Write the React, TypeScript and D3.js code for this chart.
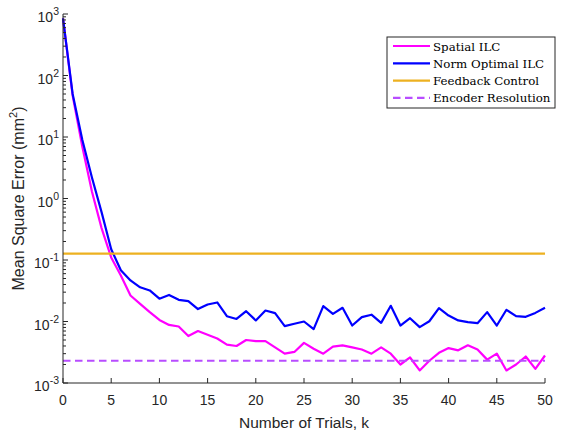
import React from "react";
import * as d3 from "d3";

const trials = d3.range(0, 51);
const spatialILC = [850, 47, 7, 1.3, 0.33, 0.11, 0.056, 0.0265, 0.0194, 0.0142, 0.0106, 0.0088, 0.0083, 0.0058, 0.007, 0.0061, 0.0053, 0.0042, 0.004, 0.005, 0.0048, 0.0048, 0.0038, 0.003, 0.0032, 0.0045, 0.0036, 0.003, 0.0039, 0.0041, 0.0038, 0.0035, 0.003, 0.0038, 0.003, 0.002, 0.0026, 0.0016, 0.0023, 0.0031, 0.0037, 0.0034, 0.0041, 0.0035, 0.0024, 0.003, 0.0016, 0.002, 0.0027, 0.0017, 0.0028];
const normOptimalILC = [850, 50, 9, 2.2, 0.6, 0.15, 0.068, 0.0466, 0.036, 0.032, 0.0235, 0.027, 0.0225, 0.0215, 0.0159, 0.0189, 0.0204, 0.0122, 0.011, 0.0147, 0.0104, 0.0151, 0.0137, 0.0084, 0.0092, 0.01, 0.0075, 0.0178, 0.0133, 0.0167, 0.0086, 0.0118, 0.0129, 0.0095, 0.018, 0.0086, 0.0113, 0.0081, 0.0101, 0.0165, 0.0125, 0.0104, 0.0098, 0.0094, 0.0142, 0.0086, 0.0155, 0.0122, 0.0119, 0.0138, 0.0167];
const feedbackControl = 0.127;
const encoderResolution = 0.0023;
const xTicks = [0, 5, 10, 15, 20, 25, 30, 35, 40, 45, 50];
const yExponents = [-3, -2, -1, 0, 1, 2, 3];
const legendLabels = ["Spatial ILC", "Norm Optimal ILC", "Feedback Control", "Encoder Resolution"];

const W = 579, H = 434;
const left = 63, right = 545, top = 14, bottom = 383;
const axisColor = "#262626";
const colors = ["#ff00ff", "#0000ff", "#edb120", "#b84dff"];

export default function App() {
  const x = d3.scaleLinear().domain([0, 50]).range([left, right]);
  const y = d3.scaleLog().domain([1e-3, 1e3]).range([bottom, top]);
  const line = d3.line<number>().x((_, i) => x(trials[i])).y((d) => y(d));

  const minor: number[] = [];
  for (let e = -3; e < 3; e++) for (let m = 2; m <= 9; m++) minor.push(m * Math.pow(10, e));

  const font = "'Liberation Sans', Arial, Helvetica, sans-serif";
  const legX = 387, legY = 37, legW = 168, legH = 71;

  return (
    <svg width={W} height={H} style={{ position: "absolute", left: 0, top: 0, background: "#fff" }}>
      <path d={line(spatialILC) || ""} fill="none" stroke={colors[0]} strokeWidth={2.2} strokeLinejoin="round" />
      <path d={line(normOptimalILC) || ""} fill="none" stroke={colors[1]} strokeWidth={2.2} strokeLinejoin="round" />
      <line x1={x(0)} x2={x(50)} y1={y(feedbackControl)} y2={y(feedbackControl)} stroke={colors[2]} strokeWidth={2.2} />
      <line x1={x(0)} x2={x(50)} y1={y(encoderResolution)} y2={y(encoderResolution)} stroke={colors[3]} strokeWidth={2.2} strokeDasharray="7.5,4.5" />

      <line x1={left} x2={left} y1={top} y2={bottom} stroke={axisColor} strokeWidth={1} />
      <line x1={left} x2={right} y1={bottom} y2={bottom} stroke={axisColor} strokeWidth={1} />
      {xTicks.map((t) => (
        <g key={"xt" + t}>
          <line x1={x(t)} x2={x(t)} y1={bottom} y2={bottom - 5} stroke={axisColor} />
          <text x={x(t)} y={405} textAnchor="middle" fontFamily={font} fontSize={14} fill={axisColor}>{t}</text>
        </g>
      ))}
      {minor.map((v, i) => (
        <line key={"mn" + i} x1={left} x2={left + 3} y1={y(v)} y2={y(v)} stroke={axisColor} />
      ))}
      {yExponents.map((e) => (
        <g key={"yt" + e}>
          <line x1={left} x2={left + 5} y1={y(Math.pow(10, e))} y2={y(Math.pow(10, e))} stroke={axisColor} />
          <text x={left - 4} y={y(Math.pow(10, e)) + 8} textAnchor="end" fontFamily={font} fontSize={14} fill={axisColor}>
            <tspan>10</tspan>
            <tspan dy={-7} fontSize={10.5}>{e}</tspan>
          </text>
        </g>
      ))}
      <text x={(left + right) / 2} y={428} textAnchor="middle" fontFamily={font} fontSize={15.5} fill={axisColor}>Number of Trials, k</text>
      <text transform={`translate(24, ${(top + bottom) / 2}) rotate(-90)`} textAnchor="middle" fontFamily={font} fontSize={16} fill={axisColor}>
        <tspan>Mean Square Error (mm</tspan>
        <tspan dy={-7} fontSize={11}>2</tspan>
        <tspan dy={7}>)</tspan>
      </text>

      <rect x={legX} y={legY} width={legW} height={legH} fill="#fff" stroke={axisColor} strokeWidth={1} />
      {legendLabels.map((lab, i) => {
        const ly = legY + 9 + i * 17.3;
        return (
          <g key={lab}>
            <line x1={legX + 6} x2={legX + 43} y1={ly} y2={ly} stroke={colors[i]} strokeWidth={2.2} strokeDasharray={i === 3 ? "7.5,4.5" : undefined} />
            <text x={legX + 46} y={ly + 4.5} fontFamily="'DejaVu Serif', serif" fontSize={11.8} fill="#000">{lab}</text>
          </g>
        );
      })}
    </svg>
  );
}
